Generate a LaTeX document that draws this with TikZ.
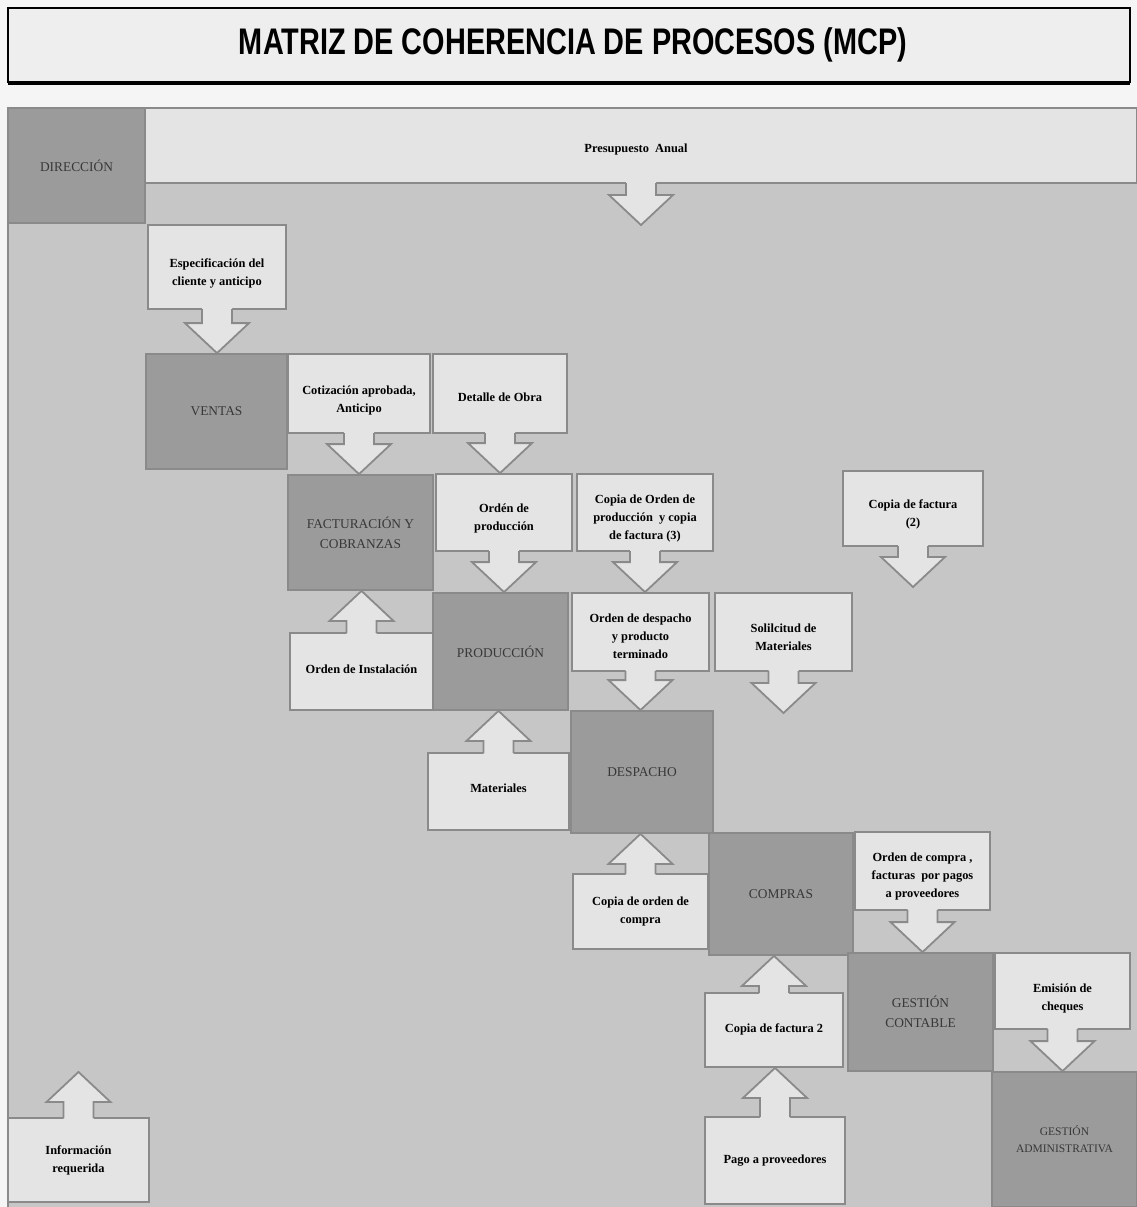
\documentclass[tikz,border=0pt]{standalone}
\usepackage{fontspec}
\usepackage{graphicx}
\setmainfont{Liberation Serif}
\newfontfamily\titlefont{Liberation Sans}
\usetikzlibrary{calc}

\definecolor{pagebg}{HTML}{F5F5F5}
\definecolor{titlebg}{HTML}{EEEEEE}
\definecolor{panelgray}{HTML}{C6C6C6}
\definecolor{procgray}{HTML}{9B9B9B}
\definecolor{notegray}{HTML}{E4E4E4}
\definecolor{edgegray}{HTML}{8A8A8A}
\definecolor{proctext}{HTML}{383838}

\tikzset{
  proc/.style={draw=edgegray, line width=1.8pt, fill=procgray, text=proctext,
    inner sep=0pt, align=center, font=\fontsize{13.4}{20}\selectfont},
  note/.style={draw=edgegray, line width=1.8pt, fill=notegray, inner sep=0pt},
  notetext/.style={text=black, inner sep=0pt, align=center,
    font=\bfseries\fontsize{12.4}{18}\selectfont},
  flowfill/.style={fill=notegray},
  flowline/.style={draw=edgegray, line width=1.8pt, line join=miter},
}

% block arrow leaving the bottom of a note and pointing down to #2
\newcommand\flowdown[2]{%
  \fill[flowfill] let \p1=(#1.south), \p2=(#1.south |- #2) in
    ({\x1-15pt},{\y1+2.5pt}) -- ({\x1-15pt},{\y2+30pt}) -- ({\x1-32pt},{\y2+30pt})
    -- (\x1,\y2) -- ({\x1+32pt},{\y2+30pt}) -- ({\x1+15pt},{\y2+30pt})
    -- ({\x1+15pt},{\y1+2.5pt}) -- cycle;
  \draw[flowline] let \p1=(#1.south), \p2=(#1.south |- #2) in
    ({\x1-15pt},{\y1+0.9pt}) -- ({\x1-15pt},{\y2+30pt}) -- ({\x1-32pt},{\y2+30pt})
    -- (\x1,\y2) -- ({\x1+32pt},{\y2+30pt}) -- ({\x1+15pt},{\y2+30pt})
    -- ({\x1+15pt},{\y1+0.9pt});
}
% block arrow leaving the top of a note and pointing up to #2
\newcommand\flowup[2]{%
  \fill[flowfill] let \p1=(#1.north), \p2=(#1.north |- #2) in
    ({\x1-15pt},{\y1-2.5pt}) -- ({\x1-15pt},{\y2-30pt}) -- ({\x1-32pt},{\y2-30pt})
    -- (\x1,\y2) -- ({\x1+32pt},{\y2-30pt}) -- ({\x1+15pt},{\y2-30pt})
    -- ({\x1+15pt},{\y1-2.5pt}) -- cycle;
  \draw[flowline] let \p1=(#1.north), \p2=(#1.north |- #2) in
    ({\x1-15pt},{\y1-0.9pt}) -- ({\x1-15pt},{\y2-30pt}) -- ({\x1-32pt},{\y2-30pt})
    -- (\x1,\y2) -- ({\x1+32pt},{\y2-30pt}) -- ({\x1+15pt},{\y2-30pt})
    -- ({\x1+15pt},{\y1-0.9pt});
}

\begin{document}
\begin{tikzpicture}[x=1pt, y=1pt]
\useasboundingbox (0,0) rectangle (1137,-1207);
\fill[pagebg] (0,0) rectangle (1137,-1207);

% title banner
\draw[fill=titlebg, line width=2.6pt] (8,-8) rectangle (1130,-82);
\draw[line width=2pt] (8,-83.5) -- (1130,-83.5);
\node[font=\titlefont\bfseries\fontsize{37}{40}\selectfont] (title) at (573,-45)
  {\scalebox{0.78}[1]{MATRIZ DE COHERENCIA DE PROCESOS (MCP)}};

% matrix panel
\draw[fill=panelgray, draw=edgegray, line width=2pt] (8,-108) rectangle (1140,-1210);

% processes on the diagonal
\node[proc, minimum width=137pt, minimum height=115pt] (dir) at (76.5,-165.5) {DIRECCIÓN};
\node[proc, minimum width=141pt, minimum height=115pt] (ven) at (216.5,-411.5) {VENTAS};
\node[proc, minimum width=145pt, minimum height=115pt] (fac) at (360.5,-532.5) {FACTURACIÓN Y\\COBRANZAS};
\node[proc, minimum width=135pt, minimum height=117pt] (pro) at (500.5,-651.5) {PRODUCCIÓN};
\node[proc, minimum width=142pt, minimum height=122pt] (des) at (642,-772) {DESPACHO};
\node[proc, minimum width=144pt, minimum height=122pt] (com) at (781,-894) {COMPRAS};
\node[proc, minimum width=145pt, minimum height=118pt] (gco) at (920.5,-1012) {GESTIÓN\\CONTABLE};
\node[proc, minimum width=145pt, minimum height=135pt,
  font=\fontsize{11.5}{17}\selectfont] (gad) at (1064.5,-1139.5) {GESTIÓN\\ADMINISTRATIVA};

% information notes
\node[note, minimum width=992pt, minimum height=75pt,
  label={[notetext, xshift=-5pt, yshift=-4pt]center:{Presupuesto\ \ Anual}}] (pre) at (641,-145.5) {};
\node[note, minimum width=138pt, minimum height=84pt,
  label={[notetext, yshift=-6pt]center:{Especificación del\\cliente y anticipo}}] (esp) at (217,-267) {};
\node[note, minimum width=142pt, minimum height=79pt,
  label={[notetext, yshift=-7pt]center:{Cotización aprobada,\\Anticipo}}] (cot) at (359,-393.5) {};
\node[note, minimum width=134pt, minimum height=79pt,
  label={[notetext, yshift=-4pt]center:{Detalle de Obra}}] (det) at (500,-393.5) {};
\node[note, minimum width=136pt, minimum height=77pt,
  label={[notetext, yshift=-6pt]center:{Ordén de\\producción}}] (ordp) at (504,-512.5) {};
\node[note, minimum width=136pt, minimum height=77pt,
  label={[notetext, yshift=-6pt]center:{Copia de Orden de\\producción\ \ y copia\\de factura (3)}}] (cop3) at (645,-512.5) {};
\node[note, minimum width=140pt, minimum height=75pt,
  label={[notetext, yshift=-5.5pt]center:{Copia de factura\\(2)}}] (cf2) at (913,-508.5) {};
\node[note, minimum width=137pt, minimum height=78pt,
  label={[notetext, yshift=-4pt]center:{Orden de despacho\\y producto\\terminado}}] (odes) at (640.5,-632) {};
\node[note, minimum width=137pt, minimum height=78pt,
  label={[notetext, yshift=-5pt]center:{Solilcitud de\\Materiales}}] (sol) at (783.5,-632) {};
\node[note, minimum width=143pt, minimum height=77pt,
  label={[notetext, yshift=2pt]center:{Orden de Instalación}}] (oins) at (361.5,-671.5) {};
\node[note, minimum width=141pt, minimum height=77pt,
  label={[notetext, yshift=3pt]center:{Materiales}}] (mat) at (498.5,-791.5) {};
\node[note, minimum width=135pt, minimum height=75pt,
  label={[notetext]center:{Copia de orden de\\compra}}] (coc) at (640.5,-911.5) {};
\node[note, minimum width=135pt, minimum height=78pt,
  label={[notetext, yshift=-6pt]center:{Orden de compra ,\\facturas\ \ por pagos\\a proveedores}}] (ocf) at (922.5,-871) {};
\node[note, minimum width=138pt, minimum height=74pt,
  label={[notetext, yshift=1pt]center:{Copia de factura 2}}] (cfa2) at (774,-1030) {};
\node[note, minimum width=135pt, minimum height=76pt,
  label={[notetext, yshift=-7pt]center:{Emisión de\\cheques}}] (emi) at (1062.5,-991) {};
\node[note, minimum width=140pt, minimum height=87pt,
  label={[notetext]center:{Pago a proveedores}}] (pag) at (775,-1160.5) {};
\node[note, minimum width=141pt, minimum height=84pt,
  label={[notetext]center:{Información\\requerida}}] (inf) at (78.5,-1160) {};

% loose arrow ends
\coordinate (preend) at (641,-225);
\coordinate (cf2end) at (913,-587);
\coordinate (solend) at (783.5,-713);
\coordinate (infend) at (78.5,-1072);

% flows between the notes and the processes
\flowdown{pre}{preend}
\flowdown{esp}{ven.north}
\flowdown{cot}{fac.north}
\flowdown{det}{ordp.north}
\flowdown{ordp}{pro.north}
\flowdown{cop3}{odes.north}
\flowdown{cf2}{cf2end}
\flowdown{odes}{des.north}
\flowdown{sol}{solend}
\flowdown{ocf}{gco.north}
\flowdown{emi}{gad.north}
\flowup{oins}{fac.south}
\flowup{mat}{pro.south}
\flowup{coc}{des.south}
\flowup{cfa2}{com.south}
\flowup{pag}{cfa2.south}
\flowup{inf}{infend}
\end{tikzpicture}
\end{document}
